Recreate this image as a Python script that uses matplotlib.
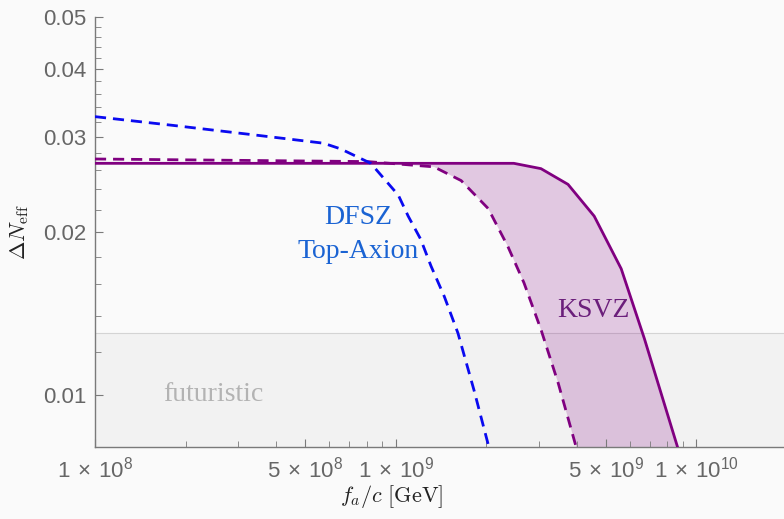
import matplotlib
matplotlib.use("Agg")
import matplotlib.pyplot as plt
import numpy as np
from matplotlib.ticker import FixedLocator, NullFormatter

# DFSZ top-axion (blue dashed)
dfsz_fa = [1e8, 1.82e8, 3.47e8, 5.75e8, 6.56e8, 8.26e8, 1.02e9, 1.10e9, 1.21e9,
           1.31e9, 1.45e9, 1.61e9, 1.82e9, 2.04e9]
dfsz_dn = [0.0327, 0.0315, 0.0302, 0.0292, 0.0285, 0.0268, 0.0234, 0.0214, 0.0194,
           0.0173, 0.0152, 0.0130, 0.0102, 0.0080]

# KSVZ lower edge (purple dashed)
ksvz_lo_fa = [1e8, 8.07e8, 1.34e9, 1.65e9, 2.03e9, 2.36e9, 2.67e9, 3.04e9, 3.47e9, 3.98e9]
ksvz_lo_dn = [0.0273, 0.0270, 0.0264, 0.0249, 0.0221, 0.0188, 0.0161, 0.0132, 0.0105, 0.0080]

# KSVZ upper edge (purple solid)
ksvz_hi_fa = [1e8, 2.47e9, 3.04e9, 3.74e9, 4.57e9, 5.62e9, 6.71e9, 8.71e9]
ksvz_hi_dn = [0.0268, 0.0268, 0.0262, 0.0245, 0.0214, 0.0171, 0.0127, 0.0079]

futuristic_level = 0.013

xticks = [1e8, 5e8, 1e9, 5e9, 1e10]
xticklabels = [r"$\mathregular{1\,\times\,10^{8}}$", r"$\mathregular{5\,\times\,10^{8}}$",
               r"$\mathregular{1\,\times\,10^{9}}$", r"$\mathregular{5\,\times\,10^{9}}$",
               r"$\mathregular{1\,\times\,10^{10}}$"]
yticks = [0.01, 0.02, 0.03, 0.04, 0.05]
yticklabels = ["0.01", "0.02", "0.03", "0.04", "0.05"]

bg = "#fafafa"
axis_gray = "#7a7a7a"
label_gray = "#666666"

fig = plt.figure(figsize=(7.84, 5.19), dpi=100, facecolor=bg)
ax = fig.add_axes([95 / 784, 72 / 519, (787 - 95) / 784, (447 - 17) / 519])
ax.set_facecolor(bg)
ax.set_xscale("log")
ax.set_yscale("log")
ax.set_xlim(1e8, 2e10)
ax.set_ylim(0.008, 0.05)

# futuristic band
ax.axhspan(0.008, futuristic_level, color="#f2f2f2", zorder=0, lw=0)
ax.axhline(futuristic_level, color="#d4d4d4", lw=0.8, zorder=0.5)

# KSVZ band between the two edges
band_x = list(ksvz_lo_fa[1:]) + list(ksvz_hi_fa[1:])[::-1]
band_y = list(ksvz_lo_dn[1:]) + list(ksvz_hi_dn[1:])[::-1]
ax.fill(band_x, band_y, color="#800080", alpha=0.2, lw=0, zorder=1)

ax.plot(ksvz_hi_fa, ksvz_hi_dn, color="#800080", lw=2.0, zorder=3)
ax.plot(ksvz_lo_fa, ksvz_lo_dn, color="#800080", lw=2.0, ls=(0, (4, 2.5)), zorder=3)
ax.plot(dfsz_fa, dfsz_dn, color="#0a0af0", lw=2.0, ls=(0, (4, 2.5)), zorder=4)

serif = ["Liberation Serif", "DejaVu Serif"]
ax.text(7.5e8, 0.0213, "DFSZ", family=serif, fontsize=20, color="#1a63d3",
        ha="center", va="center")
ax.text(7.5e8, 0.0184, "Top-Axion", family=serif, fontsize=20, color="#1a63d3",
        ha="center", va="center")
ax.text(4.55e9, 0.0143, "KSVZ", family=serif, fontsize=20, color="#6b1f7b",
        ha="center", va="center")
ax.text(2.47e8, 0.01, "futuristic", family=serif, fontsize=20, color="#b3b3b3",
        ha="center", va="center")

# ticks
ax.xaxis.set_major_locator(FixedLocator(xticks))
ax.set_xticklabels(xticklabels)
minor_x = [m * 10 ** e for e in (8, 9, 10) for m in (2, 3, 4, 6, 7, 8, 9)]
ax.xaxis.set_minor_locator(FixedLocator(minor_x))
ax.xaxis.set_minor_formatter(NullFormatter())

ax.yaxis.set_major_locator(FixedLocator(yticks))
ax.set_yticklabels(yticklabels)
minor_y = [round(0.008 + 0.002 * i, 3) for i in range(22)]
ax.yaxis.set_minor_locator(FixedLocator([v for v in minor_y if v not in yticks]))
ax.yaxis.set_minor_formatter(NullFormatter())

for lab in ax.get_xticklabels() + ax.get_yticklabels():
    lab.set_family("Liberation Sans")
ax.tick_params(which="both", direction="in", color=axis_gray, labelcolor=label_gray,
               labelsize=16, top=False, right=False)
ax.tick_params(which="major", length=6, width=0.8)
ax.tick_params(which="minor", length=4, width=0.6)
ax.tick_params(axis="x", pad=7)
ax.tick_params(axis="y", pad=6)

for side in ("top", "right"):
    ax.spines[side].set_visible(False)
for side in ("left", "bottom"):
    ax.spines[side].set_color(axis_gray)
    ax.spines[side].set_linewidth(1.0)

ax.set_xlabel(r"$f_a/c\ [\mathrm{GeV}]$", fontsize=16, math_fontfamily="cm",
              color="#222222", va="center")
ax.xaxis.set_label_coords((392 - 95) / 692, -(497 - 447) / 430)
ax.set_ylabel(r"$\Delta N_{\rm eff}$", fontsize=16, math_fontfamily="cm",
              color="#222222", labelpad=9)

fig.savefig("out.png", dpi=100, facecolor=bg)
